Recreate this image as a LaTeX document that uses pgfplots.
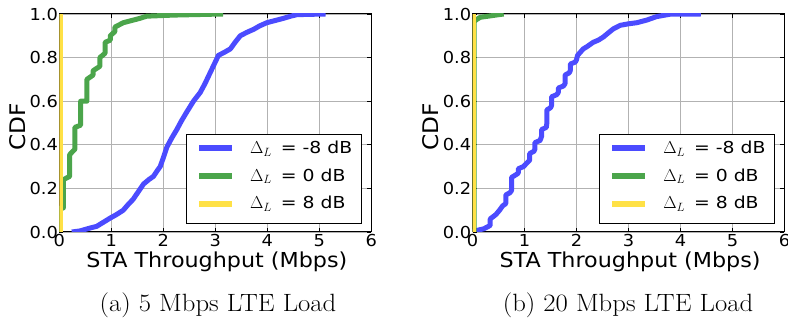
\documentclass[border=0pt]{standalone}
\usepackage{fontspec}
\usepackage{graphicx}
\newfontfamily\dejavu[FakeStretch=1.08]{DejaVu Sans}
\newfontfamily\legfont[FakeStretch=1.14]{DejaVu Sans}
\usepackage{pgfplots}
\pgfplotsset{compat=1.18}
\definecolor{cblue}{RGB}{75,75,255}
\definecolor{cgreen}{RGB}{75,165,75}
\definecolor{cyellow}{RGB}{255,225,70}
\newcommand{\DL}{{\fontsize{18}{20}\selectfont$\Delta_L$}\hspace{9pt}}
\pgfplotsset{mystyle/.style={
  scale only axis, width=312pt, height=218pt,
  xmin=0, xmax=6, ymin=0, ymax=1,
  xtick={0,1,2,3,4,5,6}, ytick={0,0.2,0.4,0.6,0.8,1.0},
  yticklabel style={/pgf/number format/fixed, /pgf/number format/fixed zerofill, /pgf/number format/precision=1},
  /pgf/number format/assume math mode=true,
  tick label style={font=\fontsize{16.5}{19}\dejavu},
  xticklabel style={anchor=north, inner sep=0pt, yshift=-2pt},
  yticklabel style={anchor=east, inner sep=0pt, xshift=-1.2pt},
  grid=major, major grid style={black!30, line width=0.9pt},
  tick align=inside, major tick length=4pt, tick style={black, line width=0.8pt},
  axis line style={black, line width=1pt},
  xlabel={STA Throughput (Mbps)}, ylabel={CDF},
  xlabel style={font=\fontsize{20.6}{24}\dejavu, at={(axis description cs:0.505,-0.164)}, anchor=base},
  ylabel style={font=\fontsize{21.5}{24}\dejavu, at={(axis description cs:-0.133,0.481)}, anchor=center, rotate=0},
  legend cell align=left,
  legend style={at={(0.971,0.036)}, anchor=south east, draw=black, line width=1pt,
    font=\fontsize{16.5}{19}\legfont, inner xsep=9.5pt, inner ysep=7.3pt, row sep=8.2pt,
    nodes={inner sep=0pt, text height=12pt, text depth=7.5pt}},
  legend image code/.code={\draw[#1, line width=6pt, line cap=butt] (0pt,2.9pt) -- (33pt,2.9pt); \path (0pt,0pt) (48.3pt,0pt);},
  every axis plot/.append style={line width=5pt, line join=round},
}}
\begin{document}
\begin{tikzpicture}
\useasboundingbox (0pt,0pt) rectangle (788pt,324pt);
\begin{axis}[mystyle, at={(59.3pt,92pt)}, anchor=south west]
\addplot[cblue] coordinates {
(0.24,0.0) (0.40,0.005) (0.53,0.014) (0.62,0.02) (0.72,0.026) (0.85,0.045) (0.98,0.064) (1.10,0.08) (1.23,0.10) (1.32,0.125) (1.42,0.15) (1.52,0.185) (1.62,0.22) (1.72,0.24) (1.81,0.255) (1.88,0.28) (1.94,0.30) (2.00,0.34) (2.07,0.39) (2.16,0.43) (2.26,0.47) (2.35,0.51) (2.45,0.55) (2.58,0.60) (2.71,0.64) (2.80,0.68) (2.90,0.73) (2.98,0.77) (3.06,0.81) (3.18,0.825) (3.29,0.84) (3.38,0.87) (3.48,0.90) (3.60,0.915) (3.74,0.93) (3.85,0.945) (3.99,0.96) (4.15,0.97) (4.31,0.98) (4.45,0.99) (4.57,0.997) (5.12,1.0)};
\addlegendentry{\DL= -8 dB}
\addplot[cgreen] coordinates {
(0.02,0.0) (0.02,0.11) (0.077,0.11) (0.077,0.24) (0.2,0.255) (0.2,0.355) (0.30,0.38) (0.30,0.48) (0.41,0.49) (0.41,0.60) (0.53,0.60) (0.53,0.70) (0.65,0.72) (0.65,0.74) (0.78,0.76) (0.78,0.80) (0.88,0.82) (0.88,0.87) (0.98,0.88) (0.98,0.90) (1.07,0.92) (1.07,0.94) (1.23,0.96) (1.55,0.98) (1.68,0.99) (2.2,0.995) (3.15,1.0)};
\addlegendentry{\DL= 0 dB}
\addplot[cyellow] coordinates {(0.02,0) (0.02,1.0)};
\addlegendentry{\DL= 8 dB}
\end{axis}
\begin{axis}[mystyle, at={(472.5pt,92pt)}, anchor=south west]
\addplot[cblue] coordinates {
(0.0,0.0) (0.05,0.005) (0.22,0.015) (0.30,0.025) (0.34,0.03) (0.34,0.06) (0.45,0.08) (0.52,0.10) (0.58,0.12) (0.64,0.13) (0.64,0.17) (0.72,0.18) (0.75,0.19) (0.75,0.25) (0.85,0.265) (0.88,0.27) (0.88,0.29) (0.98,0.30) (1.02,0.31) (1.1,0.33) (1.1,0.36) (1.18,0.37) (1.2,0.38) (1.2,0.41) (1.3,0.42) (1.33,0.44) (1.33,0.47) (1.42,0.48) (1.43,0.50) (1.43,0.56) (1.5,0.57) (1.52,0.58) (1.52,0.62) (1.62,0.63) (1.65,0.64) (1.65,0.66) (1.75,0.67) (1.78,0.68) (1.78,0.72) (1.86,0.73) (1.88,0.74) (1.88,0.77) (1.98,0.78) (2.0,0.79) (2.02,0.81) (2.13,0.84) (2.2,0.85) (2.32,0.87) (2.42,0.88) (2.52,0.895) (2.62,0.915) (2.71,0.932) (2.84,0.948) (3.0,0.955) (3.16,0.96) (3.35,0.972) (3.54,0.988) (3.80,0.999) (4.39,1.0)};
\addlegendentry{\DL= -8 dB}
\addplot[cgreen] coordinates {(0.03,0.0) (0.03,0.965) (0.08,0.975) (0.15,0.985) (0.3,0.99) (0.45,0.995) (0.6,1.0)};
\addlegendentry{\DL= 0 dB}
\addplot[cyellow] coordinates {(0.02,0) (0.02,1.0)};
\addlegendentry{\DL= 8 dB}
\end{axis}
\node[font=\fontsize{25}{30}\selectfont, anchor=base] at (218pt,12pt) {\scalebox{1.068}[1]{(a) 5 Mbps LTE Load}};
\node[font=\fontsize{25}{30}\selectfont, anchor=base] at (628pt,12pt) {\scalebox{1.068}[1]{(b) 20 Mbps LTE Load}};
\end{tikzpicture}
\end{document}
